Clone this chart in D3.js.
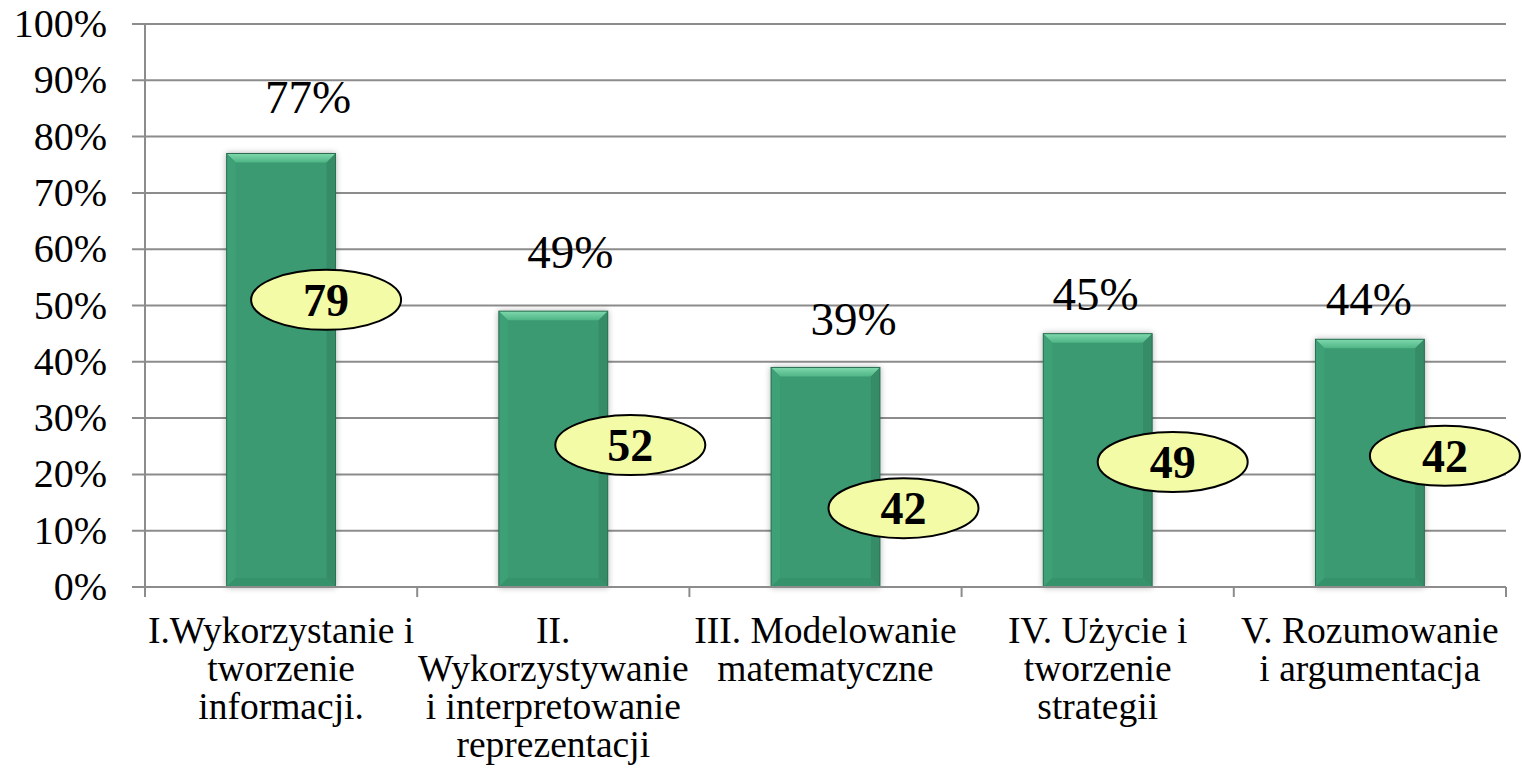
<!DOCTYPE html>
<html>
<head>
<meta charset="utf-8">
<script src="https://cdn.jsdelivr.net/npm/d3@7"></script>
<style>
  html, body { margin: 0; padding: 0; background: #fff; }
  svg { display: block; }
</style>
</head>
<body>
<svg id="chart" width="1522" height="780"></svg>
<script>
// ---- data ----
const categories = [
  ["I.Wykorzystanie i", "tworzenie", "informacji."],
  ["II.", "Wykorzystywanie", "i interpretowanie", "reprezentacji"],
  ["III. Modelowanie", "matematyczne"],
  ["IV. Użycie i", "tworzenie", "strategii"],
  ["V. Rozumowanie", "i argumentacja"]
];
const percentValues = [77, 49, 39, 45, 44];
const scoreValues = [79, 52, 42, 49, 42];
const yTicks = [0, 10, 20, 30, 40, 50, 60, 70, 80, 90, 100];

// ---- layout (manual label placement as in the original) ----
const pctLabelDx = [27, 17, 28, -2, -1];          // px offset from bar centre
const pctLabelAt = [84.2, 56.7, 44.8, 49.2, 48.3]; // baseline, in axis units
const ovalDx = [45, 77, 78, 75, 75];               // px offset from bar centre
const ovalAt = [51, 25.2, 14, 22.2, 23.3];         // centre, in axis units

const svg = d3.select("#chart");
const mLeft = 145, mRight = 1506, mTop = 24, mBottom = 587;

const x = d3.scaleBand().domain(d3.range(categories.length)).range([mLeft, mRight]).paddingInner(0).paddingOuter(0);
const y = d3.scaleLinear().domain([0, 100]).range([mBottom, mTop]);
const barW = x.bandwidth() * 0.4;

const serif = "'Liberation Serif', 'Times New Roman', serif";

// gridlines
svg.append("g").selectAll("line").data(yTicks).join("line")
  .attr("x1", mLeft - 13).attr("x2", mRight)
  .attr("y1", d => y(d)).attr("y2", d => y(d))
  .attr("stroke", "#8c8c8c").attr("stroke-width", 2);

// y axis line
svg.append("line").attr("x1", mLeft).attr("x2", mLeft)
  .attr("y1", mTop).attr("y2", mBottom + 10)
  .attr("stroke", "#8c8c8c").attr("stroke-width", 2);

// category tick marks
svg.append("g").selectAll("line").data(d3.range(1, categories.length + 1)).join("line")
  .attr("x1", i => mLeft + i * x.bandwidth()).attr("x2", i => mLeft + i * x.bandwidth())
  .attr("y1", mBottom).attr("y2", mBottom + 10)
  .attr("stroke", "#8c8c8c").attr("stroke-width", 2);

// y tick labels
svg.append("g").selectAll("text").data(yTicks).join("text")
  .attr("x", 107).attr("y", d => y(d) + 13)
  .attr("text-anchor", "end")
  .attr("font-family", serif).attr("font-size", 40)
  .text(d => d + "%");

// defs for bars
const defs = svg.append("defs");
const flt = defs.append("filter").attr("id", "shadow").attr("x", "-20%").attr("y", "-10%").attr("width", "140%").attr("height", "120%");
flt.append("feGaussianBlur").attr("in", "SourceAlpha").attr("stdDeviation", 3).attr("result", "b");
flt.append("feComponentTransfer").attr("in", "b").attr("result", "o2")
  .append("feFuncA").attr("type", "linear").attr("slope", 0.3);
const fm = flt.append("feMerge");
fm.append("feMergeNode").attr("in", "o2");
fm.append("feMergeNode").attr("in", "SourceGraphic");

const topGrad = defs.append("linearGradient").attr("id", "topbev").attr("x1", 0).attr("y1", 0).attr("x2", 0).attr("y2", 1);
topGrad.append("stop").attr("offset", "0%").attr("stop-color", "#7fd9ad");
topGrad.append("stop").attr("offset", "100%").attr("stop-color", "#4fb586");

const bev = 9;
const bars = svg.append("g").selectAll("g").data(percentValues).join("g")
  .attr("filter", "url(#shadow)");
bars.each(function(v, i) {
  const g = d3.select(this);
  const x0 = x(i) + (x.bandwidth() - barW) / 2, x1 = x0 + barW;
  const y0 = y(v), y1 = y(0);
  g.append("rect").attr("x", x0).attr("y", y0).attr("width", barW).attr("height", y1 - y0)
    .attr("fill", "#3a9a72");
  g.append("polygon").attr("points", [[x0, y0], [x1, y0], [x1 - bev, y0 + bev], [x0 + bev, y0 + bev]].join(" "))
    .attr("fill", "url(#topbev)");
  g.append("polygon").attr("points", [[x0, y0], [x0 + bev, y0 + bev], [x0 + bev, y1 - bev], [x0, y1]].join(" "))
    .attr("fill", "#3ea077");
  g.append("polygon").attr("points", [[x1, y0], [x1 - bev, y0 + bev], [x1 - bev, y1 - bev], [x1, y1]].join(" "))
    .attr("fill", "#348c66");
  g.append("polygon").attr("points", [[x0, y1], [x0 + bev, y1 - bev], [x1 - bev, y1 - bev], [x1, y1]].join(" "))
    .attr("fill", "#36926b");
  g.append("rect").attr("x", x0).attr("y", y0).attr("width", barW).attr("height", y1 - y0)
    .attr("fill", "none").attr("stroke", "#2b6e50").attr("stroke-width", 1);
});

// redraw baseline on top of bars
svg.append("line").attr("x1", mLeft - 13).attr("x2", mRight)
  .attr("y1", y(0)).attr("y2", y(0))
  .attr("stroke", "#8c8c8c").attr("stroke-width", 2);

// percentage labels
svg.append("g").selectAll("text").data(percentValues).join("text")
  .attr("x", (d, i) => x(i) + x.bandwidth() / 2 + pctLabelDx[i])
  .attr("y", (d, i) => y(pctLabelAt[i]))
  .attr("text-anchor", "middle")
  .attr("font-family", serif).attr("font-size", 47)
  .text(d => d + "%");

// score ovals
const ov = svg.append("g").selectAll("g").data(scoreValues).join("g")
  .attr("transform", (d, i) => `translate(${x(i) + x.bandwidth() / 2 + ovalDx[i]},${y(ovalAt[i])})`);
ov.append("ellipse").attr("rx", 75).attr("ry", 30)
  .attr("fill", "#f4fba6").attr("stroke", "#000").attr("stroke-width", 2);
ov.append("text").attr("y", 16).attr("text-anchor", "middle")
  .attr("font-family", serif).attr("font-weight", "bold").attr("font-size", 46)
  .text(d => d);

// category labels
const cat = svg.append("g").selectAll("text").data(categories).join("text")
  .attr("text-anchor", "middle")
  .attr("font-family", serif).attr("font-size", 37.5)
  .attr("x", (d, i) => x(i) + x.bandwidth() / 2)
  .attr("y", 643);
cat.selectAll("tspan").data(d => d).join("tspan")
  .attr("x", function() { return d3.select(this.parentNode).attr("x"); })
  .attr("dy", (d, j) => j === 0 ? 0 : 38)
  .text(d => d);
</script>
</body>
</html>
